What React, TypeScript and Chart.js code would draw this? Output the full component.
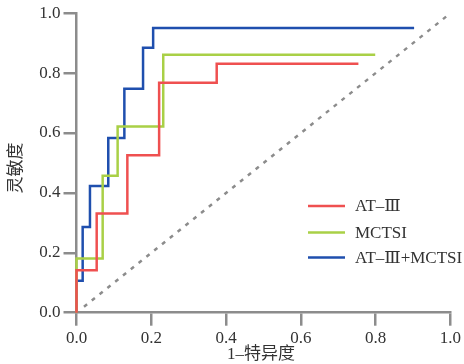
import React, { useEffect, useRef } from "react";
import { Chart, registerables } from "chart.js";

Chart.register(...registerables);

// ROC corner points (1-specificity, sensitivity)
const atFpr = [0, 0, 0.054, 0.136, 0.221, 0.375, 0.754];
const atTpr = [0, 0.142, 0.331, 0.526, 0.768, 0.831, 0.831];

const mctsiFpr = [0, 0, 0.07, 0.11, 0.232, 0.799];
const mctsiTpr = [0, 0.181, 0.457, 0.622, 0.861, 0.861];

const combFpr = [0, 0, 0.0165, 0.036, 0.085, 0.128, 0.178, 0.205, 0.903];
const combTpr = [0, 0.107, 0.286, 0.423, 0.583, 0.748, 0.885, 0.951, 0.951];

const refX = [0.02, 0.99];
const refY = [0.02, 0.99];

const seriesNames = ["AT–Ⅲ", "MCTSI", "AT–Ⅲ+MCTSI"];
const seriesColors = ["#ef5050", "#a9d046", "#1f4fae"];
const tickValues = [0, 0.2, 0.4, 0.6, 0.8, 1.0];
const xTitle = "1–特异度";
const yTitle = "灵敏度";

const pts = (xs: number[], ys: number[]) => xs.map((x, i) => ({ x, y: ys[i] }));

const AXIS = "#8c8c8c";
const FONT = "'Liberation Serif', 'Times New Roman', 'DejaVu Serif', 'Noto Sans CJK SC'";

const overlay = {
  id: "overlay",
  afterDraw(chart: any) {
    const ctx = chart.ctx;
    ctx.save();
    // legend
    const lx0 = 308, lx1 = 345, tx = 355;
    const ys = [206, 232.5, 257.5];
    ctx.font = `17px ${FONT}`;
    ctx.textBaseline = "middle";
    ctx.textAlign = "left";
    seriesNames.forEach((name, i) => {
      ctx.strokeStyle = seriesColors[i];
      ctx.lineWidth = 2.5;
      ctx.beginPath();
      ctx.moveTo(lx0, ys[i]);
      ctx.lineTo(lx1, ys[i]);
      ctx.stroke();
      ctx.fillStyle = "#333";
      ctx.fillText(name, tx, ys[i] + 1);
    });
    // axis titles
    ctx.font = `17px ${FONT}`;
    ctx.textAlign = "center";
    ctx.fillStyle = "#333";
    ctx.fillText(xTitle, 261, 355);
    ctx.translate(17, 168);
    ctx.rotate(-Math.PI / 2);
    ctx.fillText(yTitle, 0, 0);
    ctx.restore();
  },
};

export default function App() {
  const ref = useRef<HTMLCanvasElement | null>(null);
  useEffect(() => {
    document.body.style.margin = "0";
    if (!ref.current) return;
    const lineDs = (label: string, data: any, color: string) => ({
      label,
      data,
      borderColor: color,
      backgroundColor: color,
      borderWidth: 2.5,
      pointRadius: 0,
      stepped: "before" as const,
      fill: false,
      clip: 6,
    });
    const scaleCommon = (afterFit: (s: any) => void) => ({
      type: "linear" as const,
      min: 0,
      max: 1,
      afterBuildTicks: (s: any) => {
        s.ticks = tickValues.map((v) => ({ value: v }));
      },
      ticks: {
        callback: (v: any) => Number(v).toFixed(1),
        font: { family: FONT, size: 17 },
        color: "#333",
        padding: 3,
      },
      grid: {
        drawOnChartArea: false,
        drawTicks: true,
        tickLength: 13,
        color: AXIS,
        lineWidth: 2.5,
      },
      border: { color: AXIS, width: 2.5 },
      afterFit,
    });
    const chart = new Chart(ref.current, {
      type: "line",
      data: {
        datasets: [
          {
            label: "ref",
            data: pts(refX, refY),
            borderColor: "#8c8c8c",
            borderWidth: 2.5,
            borderDash: [4, 6],
            pointRadius: 0,
            fill: false,
          } as any,
          lineDs(seriesNames[0], pts(atFpr, atTpr), seriesColors[0]),
          lineDs(seriesNames[1], pts(mctsiFpr, mctsiTpr), seriesColors[1]),
          lineDs(seriesNames[2], pts(combFpr, combTpr), seriesColors[2]),
        ],
      },
      options: {
        responsive: false,
        animation: false,
        layout: { padding: { top: 12.7, right: 13, left: 0, bottom: 0 } },
        plugins: { legend: { display: false }, tooltip: { enabled: false } },
        scales: {
          x: scaleCommon((s: any) => {
            s.height = 51.3;
          }),
          y: scaleCommon((s: any) => {
            s.width = 76.5;
          }),
        } as any,
      },
      plugins: [overlay],
    });
    return () => chart.destroy();
  }, []);
  return (
    <div style={{ width: 464, height: 364 }}>
      <canvas ref={ref} width={464} height={364} />
    </div>
  );
}
